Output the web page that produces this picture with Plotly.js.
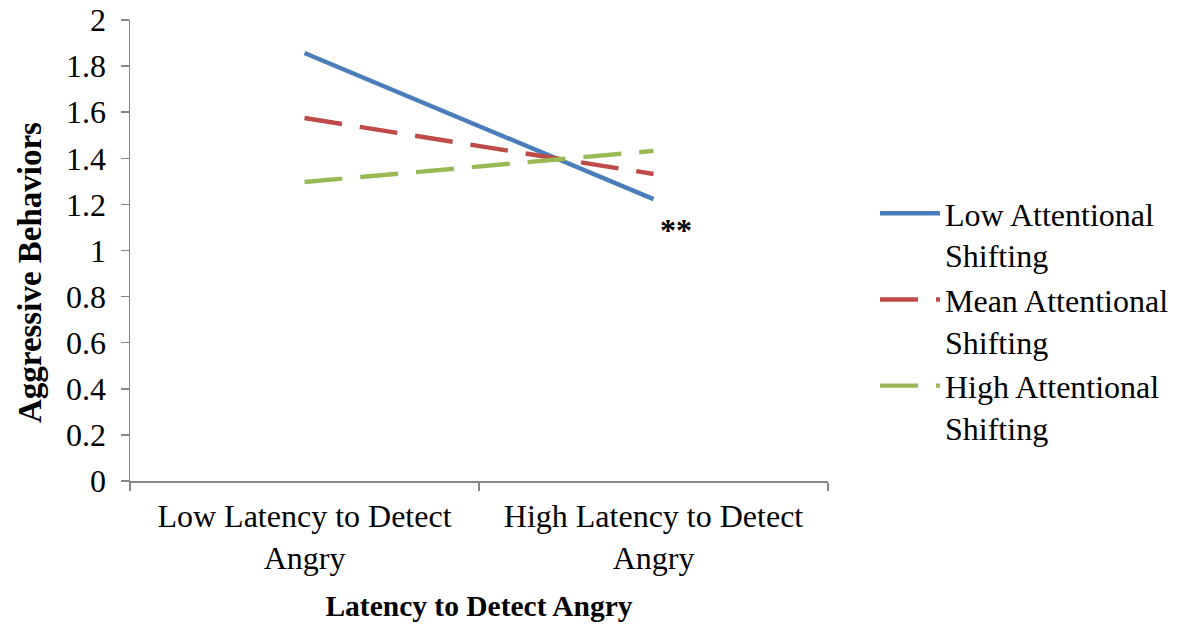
<!DOCTYPE html>
<html>
<head>
<meta charset="utf-8">
<script src="https://cdn.plot.ly/plotly-3.0.1.min.js"></script>
<style>html,body{margin:0;padding:0;background:#fff;}#chart{width:1177px;height:630px;}</style>
</head>
<body>
<div id="chart"></div>
<script>
const categories = ["Low Latency to Detect<br>Angry", "High Latency to Detect<br>Angry"];
const lowShifting = [1.857, 1.223];
const meanShifting = [1.575, 1.332];
const highShifting = [1.297, 1.432];
const seriesNames = ["Low Attentional<br>Shifting", "Mean Attentional<br>Shifting", "High Attentional<br>Shifting"];
const yTicks = [0, 0.2, 0.4, 0.6, 0.8, 1, 1.2, 1.4, 1.6, 1.8, 2];
const yTickText = ["0", "0.2", "0.4", "0.6", "0.8", "1", "1.2", "1.4", "1.6", "1.8", "2"];

const font = "Liberation Serif, Times New Roman, serif";
const traces = [
  {x: categories, y: lowShifting, name: seriesNames[0], mode: "lines", line: {color: "#4a7ebb", width: 4.4}},
  {x: categories, y: meanShifting, name: seriesNames[1], mode: "lines", line: {color: "#be4b48", width: 4.4, dash: "38px,18px"}},
  {x: categories, y: highShifting, name: seriesNames[2], mode: "lines", line: {color: "#98b954", width: 4.4, dash: "38px,18px"}}
];
const layout = {
  width: 1177, height: 630,
  margin: {l: 130, r: 349, t: 20, b: 149},
  paper_bgcolor: "#fff", plot_bgcolor: "#fff",
  font: {family: font, size: 32, color: "#000"},
  showlegend: true,
  legend: {xref: "container", x: 875 / 1177, xanchor: "left", y: 0.64, yanchor: "top", valign: "top",
    font: {family: font, size: 32, color: "#000"}, tracegroupgap: 0, itemwidth: 60},
  xaxis: {
    type: "category", range: [-0.5, 1.5], tickson: "boundaries",
    ticks: "outside", ticklen: 8, tickcolor: "#868686", tickwidth: 1.5,
    showline: true, linecolor: "#868686", linewidth: 1.5, showgrid: false, zeroline: false,
    ticklabelstandoff: 6,
    tickfont: {family: font, size: 32, color: "#000"},
    title: {text: "<b>Latency to Detect Angry</b>", font: {family: font, size: 29.5, color: "#000"}, standoff: 21}
  },
  yaxis: {
    range: [0, 2], tickvals: yTicks, ticktext: yTickText,
    ticks: "outside", ticklen: 8, tickcolor: "#868686", tickwidth: 1.5,
    showline: true, linecolor: "#868686", linewidth: 1.5, showgrid: false, zeroline: false,
    ticklabelstandoff: 8,
    tickfont: {family: font, size: 32, color: "#000"}
  },
  annotations: [
    {x: 1, y: 1.09, xref: "x", yref: "y", text: "<b>**</b>", showarrow: false, xshift: 22,
     font: {family: font, size: 32, color: "#000"}},
    {x: 0, y: 0, xref: "paper", yref: "paper", xanchor: "center", yanchor: "middle",
     text: "<b>Aggressive Behaviors</b>", showarrow: false,
     textangle: -90, font: {family: font, size: 33, color: "#000"}}
  ]
};
// convert pixel position (x=30, y=273) of the y-axis title annotation to paper coordinates
const pw = 1177 - 130 - 349, ph = 630 - 20 - 149;
layout.annotations[1].x = (30 - 130) / pw;
layout.annotations[1].y = (630 - 149 - 273) / ph;
Plotly.newPlot("chart", traces, layout, {displayModeBar: false, staticPlot: true});
</script>
</body>
</html>
